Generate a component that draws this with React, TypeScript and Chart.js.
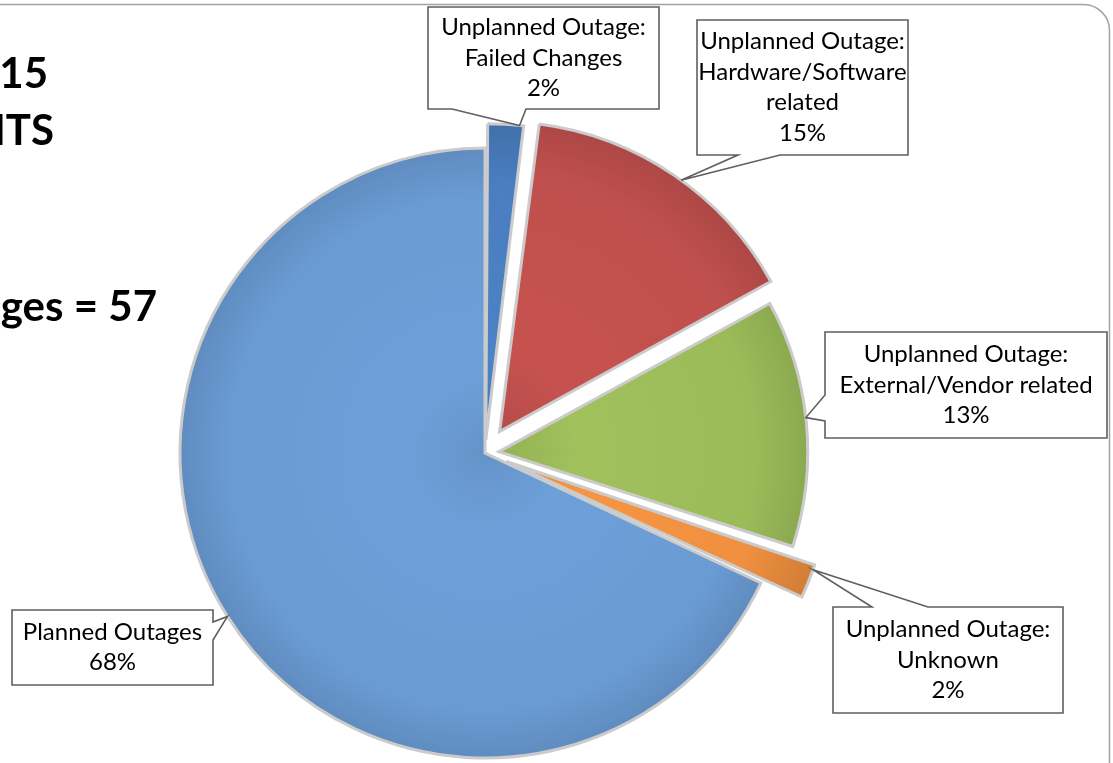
import React, { useEffect, useRef } from "react";
import { Chart, registerables } from "chart.js";

Chart.register(...registerables);

// ---- data ----
const categories = [
  "Unplanned Outage: Failed Changes",
  "Unplanned Outage: Hardware/Software related",
  "Unplanned Outage: External/Vendor related",
  "Unplanned Outage: Unknown",
  "Planned Outages",
];
const labelLines = [
  ["Unplanned Outage:", "Failed Changes"],
  ["Unplanned Outage:", "Hardware/Software", "related"],
  ["Unplanned Outage:", "External/Vendor related"],
  ["Unplanned Outage:", "Unknown"],
  ["Planned Outages"],
];
const values = [2, 15, 13, 2, 68];
const titleLines = ["015", "NTS", "ges = 57"];

// ---- styles / layout ----
const sliceColors = ["#4a7ec0", "#c0504d", "#9bbb59", "#f09040", "#6a9bd3"];
const sliceOffsets = [52, 104, 56, 92, 0];
const FONT = "Lato, 'Open Sans', sans-serif";

type Callout = { x: number; y: number; w: number; h: number; side: string; b0: number; b1: number; frac: number };
const callouts: Callout[] = [
  { x: 428, y: 7, w: 231, h: 102, side: "bottom", b0: 452, b1: 526, frac: 0.85 },
  { x: 697, y: 20, w: 211, h: 135, side: "bottom", b0: 738, b1: 780, frac: 0.53 },
  { x: 825, y: 332, w: 282, h: 106, side: "left", b0: 395, b1: 421, frac: 0.48 },
  { x: 833, y: 607, w: 230, h: 106, side: "top", b0: 872, b1: 928, frac: 0.2 },
  { x: 12, y: 610, w: 201, h: 75, side: "right", b0: 622, b1: 640, frac: 0.5 },
];
const titlePos = [
  { x: 48, y: 88 },
  { x: 54, y: 145 },
  { x: 157, y: 321 },
];

function shade(hex: string, f: number): string {
  const n = parseInt(hex.slice(1), 16);
  const r = Math.min(255, Math.round(((n >> 16) & 255) * f));
  const g = Math.min(255, Math.round(((n >> 8) & 255) * f));
  const b = Math.min(255, Math.round((n & 255) * f));
  return `rgb(${r},${g},${b})`;
}

const framePlugin = {
  id: "frame",
  beforeDatasetsDraw(chart: any) {
    const ctx = chart.ctx;
    ctx.save();
    ctx.strokeStyle = "#a3a3a3";
    ctx.lineWidth = 1.5;
    const r = 26;
    const right = 1109.5;
    const top = 4.5;
    ctx.beginPath();
    ctx.moveTo(-10, top);
    ctx.lineTo(right - r, top);
    ctx.arcTo(right, top, right, top + r, r);
    ctx.lineTo(right, 800);
    ctx.stroke();
    // titles
    ctx.fillStyle = "#000";
    ctx.font = `bold 42px ${FONT}`;
    ctx.textAlign = "right";
    ctx.textBaseline = "alphabetic";
    titleLines.forEach((t, i) => ctx.fillText(t, titlePos[i].x, titlePos[i].y));
    ctx.restore();
  },
};

const calloutPlugin = {
  id: "callouts",
  afterDatasetsDraw(chart: any) {
    const ctx = chart.ctx;
    const meta = chart.getDatasetMeta(0);
    const total = values.reduce((a, b) => a + b, 0);
    ctx.save();
    meta.data.forEach((el: any, i: number) => {
      const c = callouts[i];
      const t = (el.options.offset || 0) / 4;
      const circ = el.endAngle - el.startAngle;
      const fix = 1 - Math.sin(Math.min(Math.PI, circ));
      const half = (el.startAngle + el.endAngle) / 2;
      const cx = el.x + Math.cos(half) * t;
      const cy = el.y + Math.sin(half) * t;
      const R = el.outerRadius + t * fix;
      const a = el.startAngle + c.frac * circ;
      const ax = cx + Math.cos(a) * R;
      const ay = cy + Math.sin(a) * R;
      const { x, y, w, h } = c;
      ctx.beginPath();
      if (c.side === "bottom") {
        ctx.moveTo(x, y);
        ctx.lineTo(x + w, y);
        ctx.lineTo(x + w, y + h);
        ctx.lineTo(c.b1, y + h);
        ctx.lineTo(ax, ay);
        ctx.lineTo(c.b0, y + h);
        ctx.lineTo(x, y + h);
      } else if (c.side === "left") {
        ctx.moveTo(x, y);
        ctx.lineTo(x + w, y);
        ctx.lineTo(x + w, y + h);
        ctx.lineTo(x, y + h);
        ctx.lineTo(x, c.b1);
        ctx.lineTo(ax, ay);
        ctx.lineTo(x, c.b0);
      } else if (c.side === "top") {
        ctx.moveTo(x, y);
        ctx.lineTo(c.b0, y);
        ctx.lineTo(ax, ay);
        ctx.lineTo(c.b1, y);
        ctx.lineTo(x + w, y);
        ctx.lineTo(x + w, y + h);
        ctx.lineTo(x, y + h);
      } else {
        ctx.moveTo(x, y);
        ctx.lineTo(x + w, y);
        ctx.lineTo(x + w, c.b0);
        ctx.lineTo(ax, ay);
        ctx.lineTo(x + w, c.b1);
        ctx.lineTo(x + w, y + h);
        ctx.lineTo(x, y + h);
      }
      ctx.closePath();
      ctx.fillStyle = "#fff";
      ctx.fill();
      ctx.strokeStyle = "#5f5f5f";
      ctx.lineWidth = 1.6;
      ctx.lineJoin = "miter";
      ctx.stroke();

      const lines = [...labelLines[i], `${Math.round((values[i] / total) * 100)}%`];
      const lh = 30.5;
      ctx.fillStyle = "#000";
      ctx.font = `24px ${FONT}`;
      ctx.textAlign = "center";
      ctx.textBaseline = "middle";
      const midY = y + h / 2;
      lines.forEach((ln, k) => {
        ctx.fillText(ln, x + w / 2, midY + (k - (lines.length - 1) / 2) * lh);
      });
    });
    ctx.restore();
  },
};

export default function App() {
  const ref = useRef<HTMLCanvasElement>(null);
  useEffect(() => {
    const canvas = ref.current;
    if (!canvas) return;
    const chart = new Chart(canvas, {
      type: "pie",
      data: {
        labels: categories,
        datasets: [
          {
            data: values,
            backgroundColor: (c: any) => {
              const base = sliceColors[c.dataIndex] || "#888";
              const area = c.chart.chartArea;
              if (!area) return base;
              const cx = (area.left + area.right) / 2;
              const cy = (area.top + area.bottom) / 2;
              const g = c.chart.ctx.createRadialGradient(cx, cy, 0, cx, cy, 320);
              g.addColorStop(0, shade(base, 0.95));
              g.addColorStop(0.25, shade(base, 1.03));
              g.addColorStop(0.8, base);
              g.addColorStop(1, shade(base, 0.88));
              return g;
            },
            borderColor: "#cbcbcb",
            borderWidth: 3,
            borderJoinStyle: "miter",
            offset: sliceOffsets,
            clip: false,
          } as any,
        ],
      },
      options: {
        responsive: false,
        animation: false,
        radius: 305,
        events: [],
        layout: { padding: { left: 0, right: 143, top: 143, bottom: 0 } },
        plugins: { legend: { display: false }, tooltip: { enabled: false } },
      } as any,
      plugins: [framePlugin, calloutPlugin],
    });
    return () => chart.destroy();
  }, []);
  return (
    <div style={{ position: "absolute", left: 0, top: 0, width: 1113, height: 763, background: "#fff" }}>
      <canvas ref={ref} width={1113} height={763} style={{ display: "block" }} />
    </div>
  );
}
